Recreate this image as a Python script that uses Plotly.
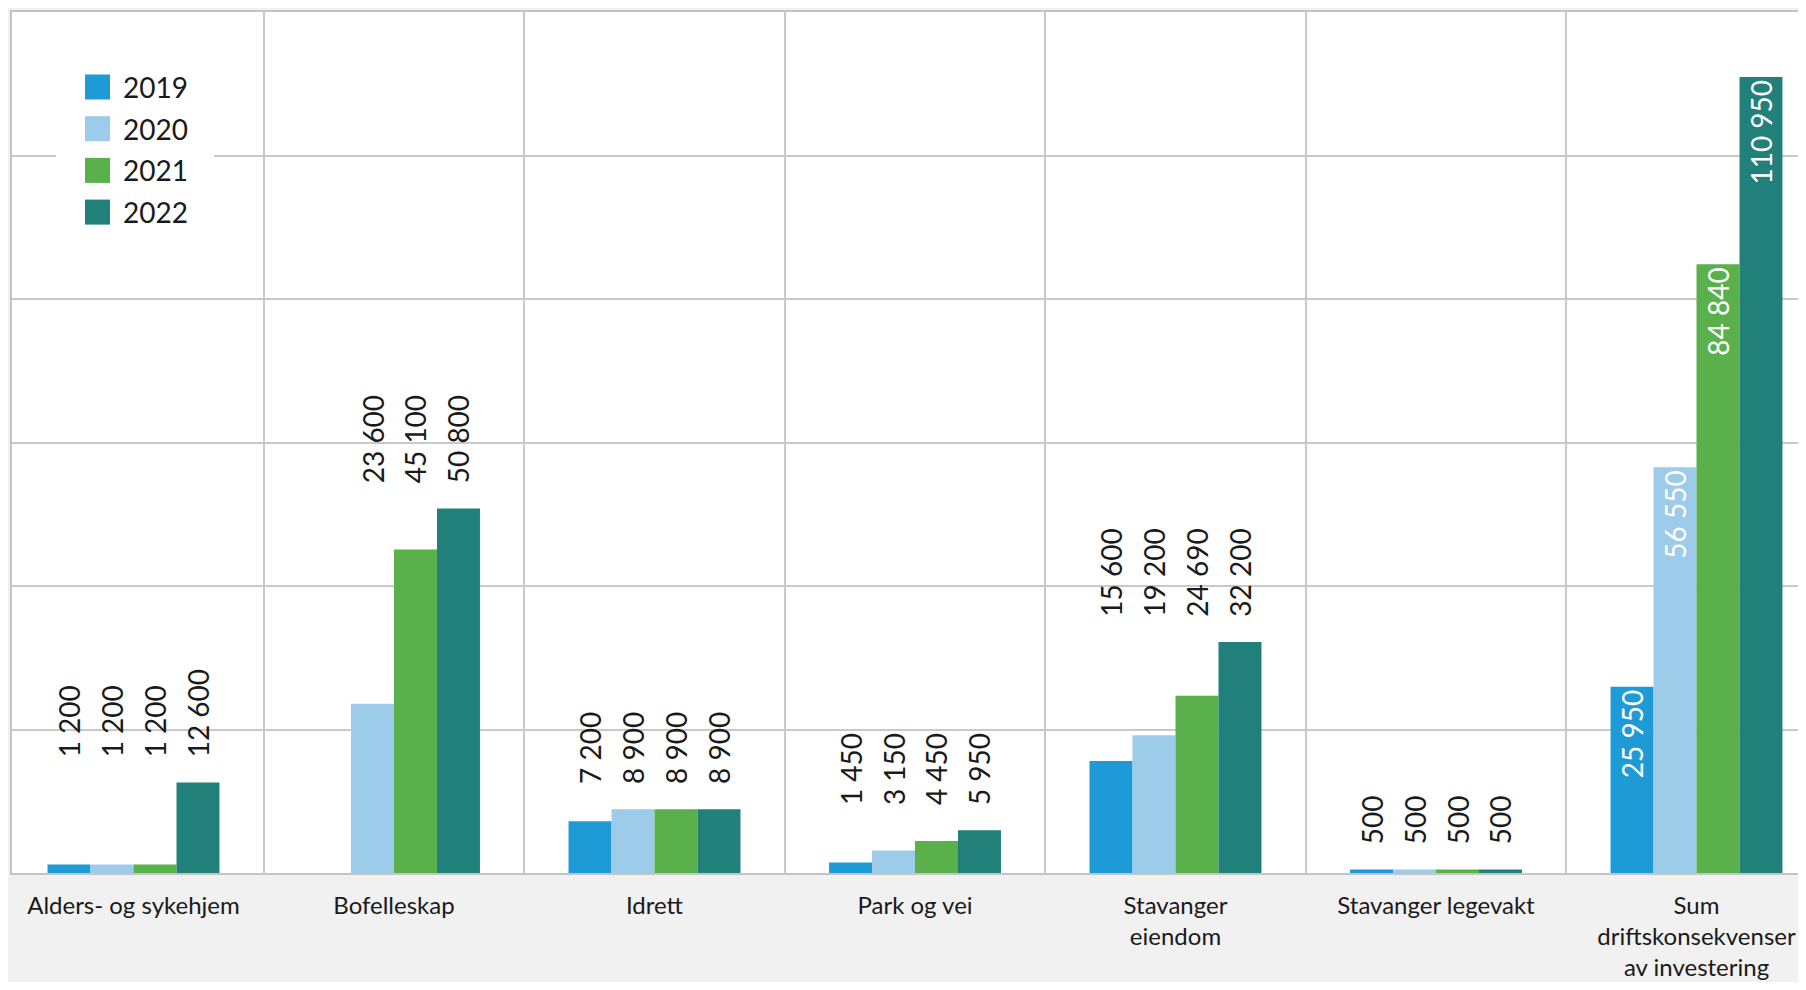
import plotly.graph_objects as go

# ---- data ----
categories = [
    "Alders- og sykehjem",
    "Bofelleskap",
    "Idrett",
    "Park og vei",
    "Stavanger eiendom",
    "Stavanger legevakt",
    "Sum driftskonsekvenser av investering",
]
tick_labels = [
    "Alders- og sykehjem",
    "Bofelleskap",
    "Idrett",
    "Park og vei",
    "Stavanger<br>eiendom",
    "Stavanger legevakt",
    "Sum<br>driftskonsekvenser<br>av investering",
]
years = ["2019", "2020", "2021", "2022"]
v2019 = [1200, None, 7200, 1450, 15600, 500, 25950]
v2020 = [1200, 23600, 8900, 3150, 19200, 500, 56550]
v2021 = [1200, 45100, 8900, 4450, 24690, 500, 84840]
v2022 = [12600, 50800, 8900, 5950, 32200, 500, 110950]
colors = ["#1e9bd7", "#9dcbea", "#5ab14c", "#22807a"]

series = [v2019, v2020, v2021, v2022]

# ---- geometry / style ----
W, H = 1790, 974          # page body has an 8 px margin
L, R, T, B = 4, 0, 4, 109
GRID = "#c9c9c9"
LINE = "#c4c4c4"
TXT = "#1a1a1a"
FONT = "Lato"
LABEL_OFFSET = 3100  # data units above the tallest bar of a group


def fmt(v):
    return "" if v is None else f"{v:,}".replace(",", " ")


n = len(categories)
sum_idx = n - 1
group_max = [max(s[i] for s in series if s[i] is not None) for i in range(n)]

fig = go.Figure()

# visible bars (labels inside only for the total group)
for year, vals, col in zip(years, series, colors):
    fig.add_trace(go.Bar(
        x=categories, y=vals, name=year,
        marker=dict(color=col, line=dict(width=0)),
        offsetgroup=year, alignmentgroup="a",
        text=[fmt(v) if i == sum_idx else "" for i, v in enumerate(vals)],
        textposition="inside", insidetextanchor="end", textangle=-90,
        textfont=dict(family=FONT, size=28, color="white"),
        constraintext="none", showlegend=False,
    ))

# invisible carriers for the aligned labels above each group
for year, vals in zip(years, series):
    lvl = [group_max[i] + LABEL_OFFSET if (vals[i] is not None and i != sum_idx) else None
           for i in range(n)]
    fig.add_trace(go.Bar(
        x=categories, y=lvl,
        marker=dict(color="rgba(0,0,0,0)", line=dict(width=0)),
        offsetgroup=year, alignmentgroup="a",
        text=[fmt(v) if i != sum_idx else "" for i, v in enumerate(vals)],
        textposition="outside", textangle=-90,
        textfont=dict(family=FONT, size=28, color=TXT),
        constraintext="none", cliponaxis=False,
        hoverinfo="skip", showlegend=False,
    ))

fig.update_layout(
    width=W, height=H,
    margin=dict(l=L, r=R, t=T, b=B, pad=0),
    paper_bgcolor="#f1f1f1", plot_bgcolor="white",
    barmode="group", bargap=0.34, bargroupgap=0,
    font=dict(family=FONT, color=TXT),
    showlegend=False,
)
fig.update_xaxes(
    type="category", range=[-0.4664, 6.3896], tickson="boundaries",
    tickmode="array", tickvals=categories, ticktext=tick_labels,
    showgrid=True, gridcolor=GRID, gridwidth=2,
    ticks="", showline=True, linecolor=LINE, linewidth=2, mirror=True,
    tickfont=dict(family=FONT, size=24, color=TXT),
    ticklabelstandoff=10, automargin=False,
)
fig.update_yaxes(
    range=[0, 120000], tick0=0, dtick=20000,
    showgrid=True, gridcolor=GRID, gridwidth=2,
    showticklabels=False, ticks="", zeroline=False,
    showline=True, linecolor=LINE, linewidth=2, automargin=False,
)


# ---- custom legend (large square keys) ----
def xp(px):
    return (px - L) / (W - L - R)


def yp(py):
    return (H - B - py) / (H - T - B)


fig.add_shape(type="rect", xref="paper", yref="paper",
              x0=xp(48), x1=xp(206), y0=yp(230), y1=yp(52),
              fillcolor="white", line=dict(width=0), layer="above")
for j, (year, col) in enumerate(zip(years, colors)):
    cy = 79 + 41.7 * j
    fig.add_shape(type="rect", xref="paper", yref="paper",
                  x0=xp(77), x1=xp(102), y0=yp(cy + 12.5), y1=yp(cy - 12.5),
                  fillcolor=col, line=dict(width=0), layer="above")
    fig.add_annotation(xref="paper", yref="paper", x=xp(113), y=yp(cy),
                       xanchor="left", yanchor="middle", text=year, showarrow=False,
                       font=dict(family=FONT, size=28, color=TXT))

fig.write_html("out.html")
